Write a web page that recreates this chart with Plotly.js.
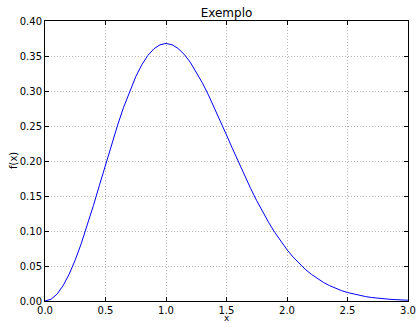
<!DOCTYPE html>
<html><head><meta charset="utf-8">
<script src="https://cdn.plot.ly/plotly-3.0.1.min.js"></script>
<style>body{margin:0;background:#fff}#c{width:416px;height:323px}</style>
</head><body><div id="c"></div>
<script>
const xs = [0,0.05,0.1,0.15,0.2,0.25,0.3,0.35,0.4,0.45,0.5,0.55,0.6,0.65,0.7,0.75,0.8,0.85,0.9,0.95,1.0,1.05,1.1,1.15,1.2,1.25,1.3,1.35,1.4,1.45,1.5,1.55,1.6,1.65,1.7,1.75,1.8,1.85,1.9,1.95,2.0,2.05,2.1,2.15,2.2,2.25,2.3,2.35,2.4,2.45,2.5,2.55,2.6,2.65,2.7,2.75,2.8,2.85,2.9,2.95,3.0];
const fx = [0,0.0025,0.0099,0.022,0.0384,0.0587,0.0823,0.1084,0.1363,0.1654,0.1947,0.2235,0.2512,0.2769,0.3002,0.3205,0.3375,0.3508,0.3603,0.366,0.3679,0.3661,0.3608,0.3524,0.3412,0.3275,0.3118,0.2946,0.2761,0.2568,0.2372,0.2175,0.1979,0.1789,0.1606,0.1432,0.1269,0.1117,0.0977,0.0849,0.0733,0.0629,0.0536,0.0454,0.0383,0.0321,0.0267,0.0221,0.0182,0.0148,0.0121,0.0098,0.0078,0.0063,0.005,0.0039,0.0031,0.0024,0.0019,0.0014,0.0011];
const xTicks = [0,0.5,1.0,1.5,2.0,2.5,3.0];
const yTicks = [0,0.05,0.1,0.15,0.2,0.25,0.3,0.35,0.4];
const font = {family:'DejaVu Sans', size:10, color:'#000'};
const ax = {
  showline:true, linecolor:'#000', linewidth:1, mirror:'ticks',
  ticks:'inside', ticklen:4, tickcolor:'#000', tickwidth:1,
  showgrid:true, gridcolor:'#b4b4b4', griddash:'1px,2px', gridwidth:1,
  zeroline:false, tickfont:font, fixedrange:true
};
Plotly.newPlot('c', [{
  x: xs, y: fx, type:'scatter', mode:'lines',
  line:{color:'#0000ff', width:1}
}], {
  width:416, height:323,
  margin:{l:45, r:8, t:21, b:22},
  paper_bgcolor:'#fff', plot_bgcolor:'#fff',
  showlegend:false,
  title:{text:'Exemplo', font:{family:'DejaVu Sans', size:12, color:'#000'}, x:0.5, xref:'paper', y:1, yref:'paper', yanchor:'bottom', pad:{b:4}},
  xaxis:Object.assign({}, ax, {range:[0,3], tickvals:xTicks, ticktext:xTicks.map(v=>v.toFixed(1))}),
  yaxis:Object.assign({}, ax, {range:[0,0.4], tickvals:yTicks, ticktext:yTicks.map(v=>v.toFixed(2))}),
  annotations:[
    {text:'x', xref:'paper', yref:'paper', x:0.5, y:0, yshift:-17, yanchor:'middle', showarrow:false, font:{family:'DejaVu Sans', size:9, color:'#000'}},
    {text:'f(x)', xref:'paper', yref:'paper', x:0, xshift:-32, xanchor:'center', y:0.5, textangle:-90, showarrow:false, font:font}
  ]
}, {staticPlot:true});
</script></body></html>
